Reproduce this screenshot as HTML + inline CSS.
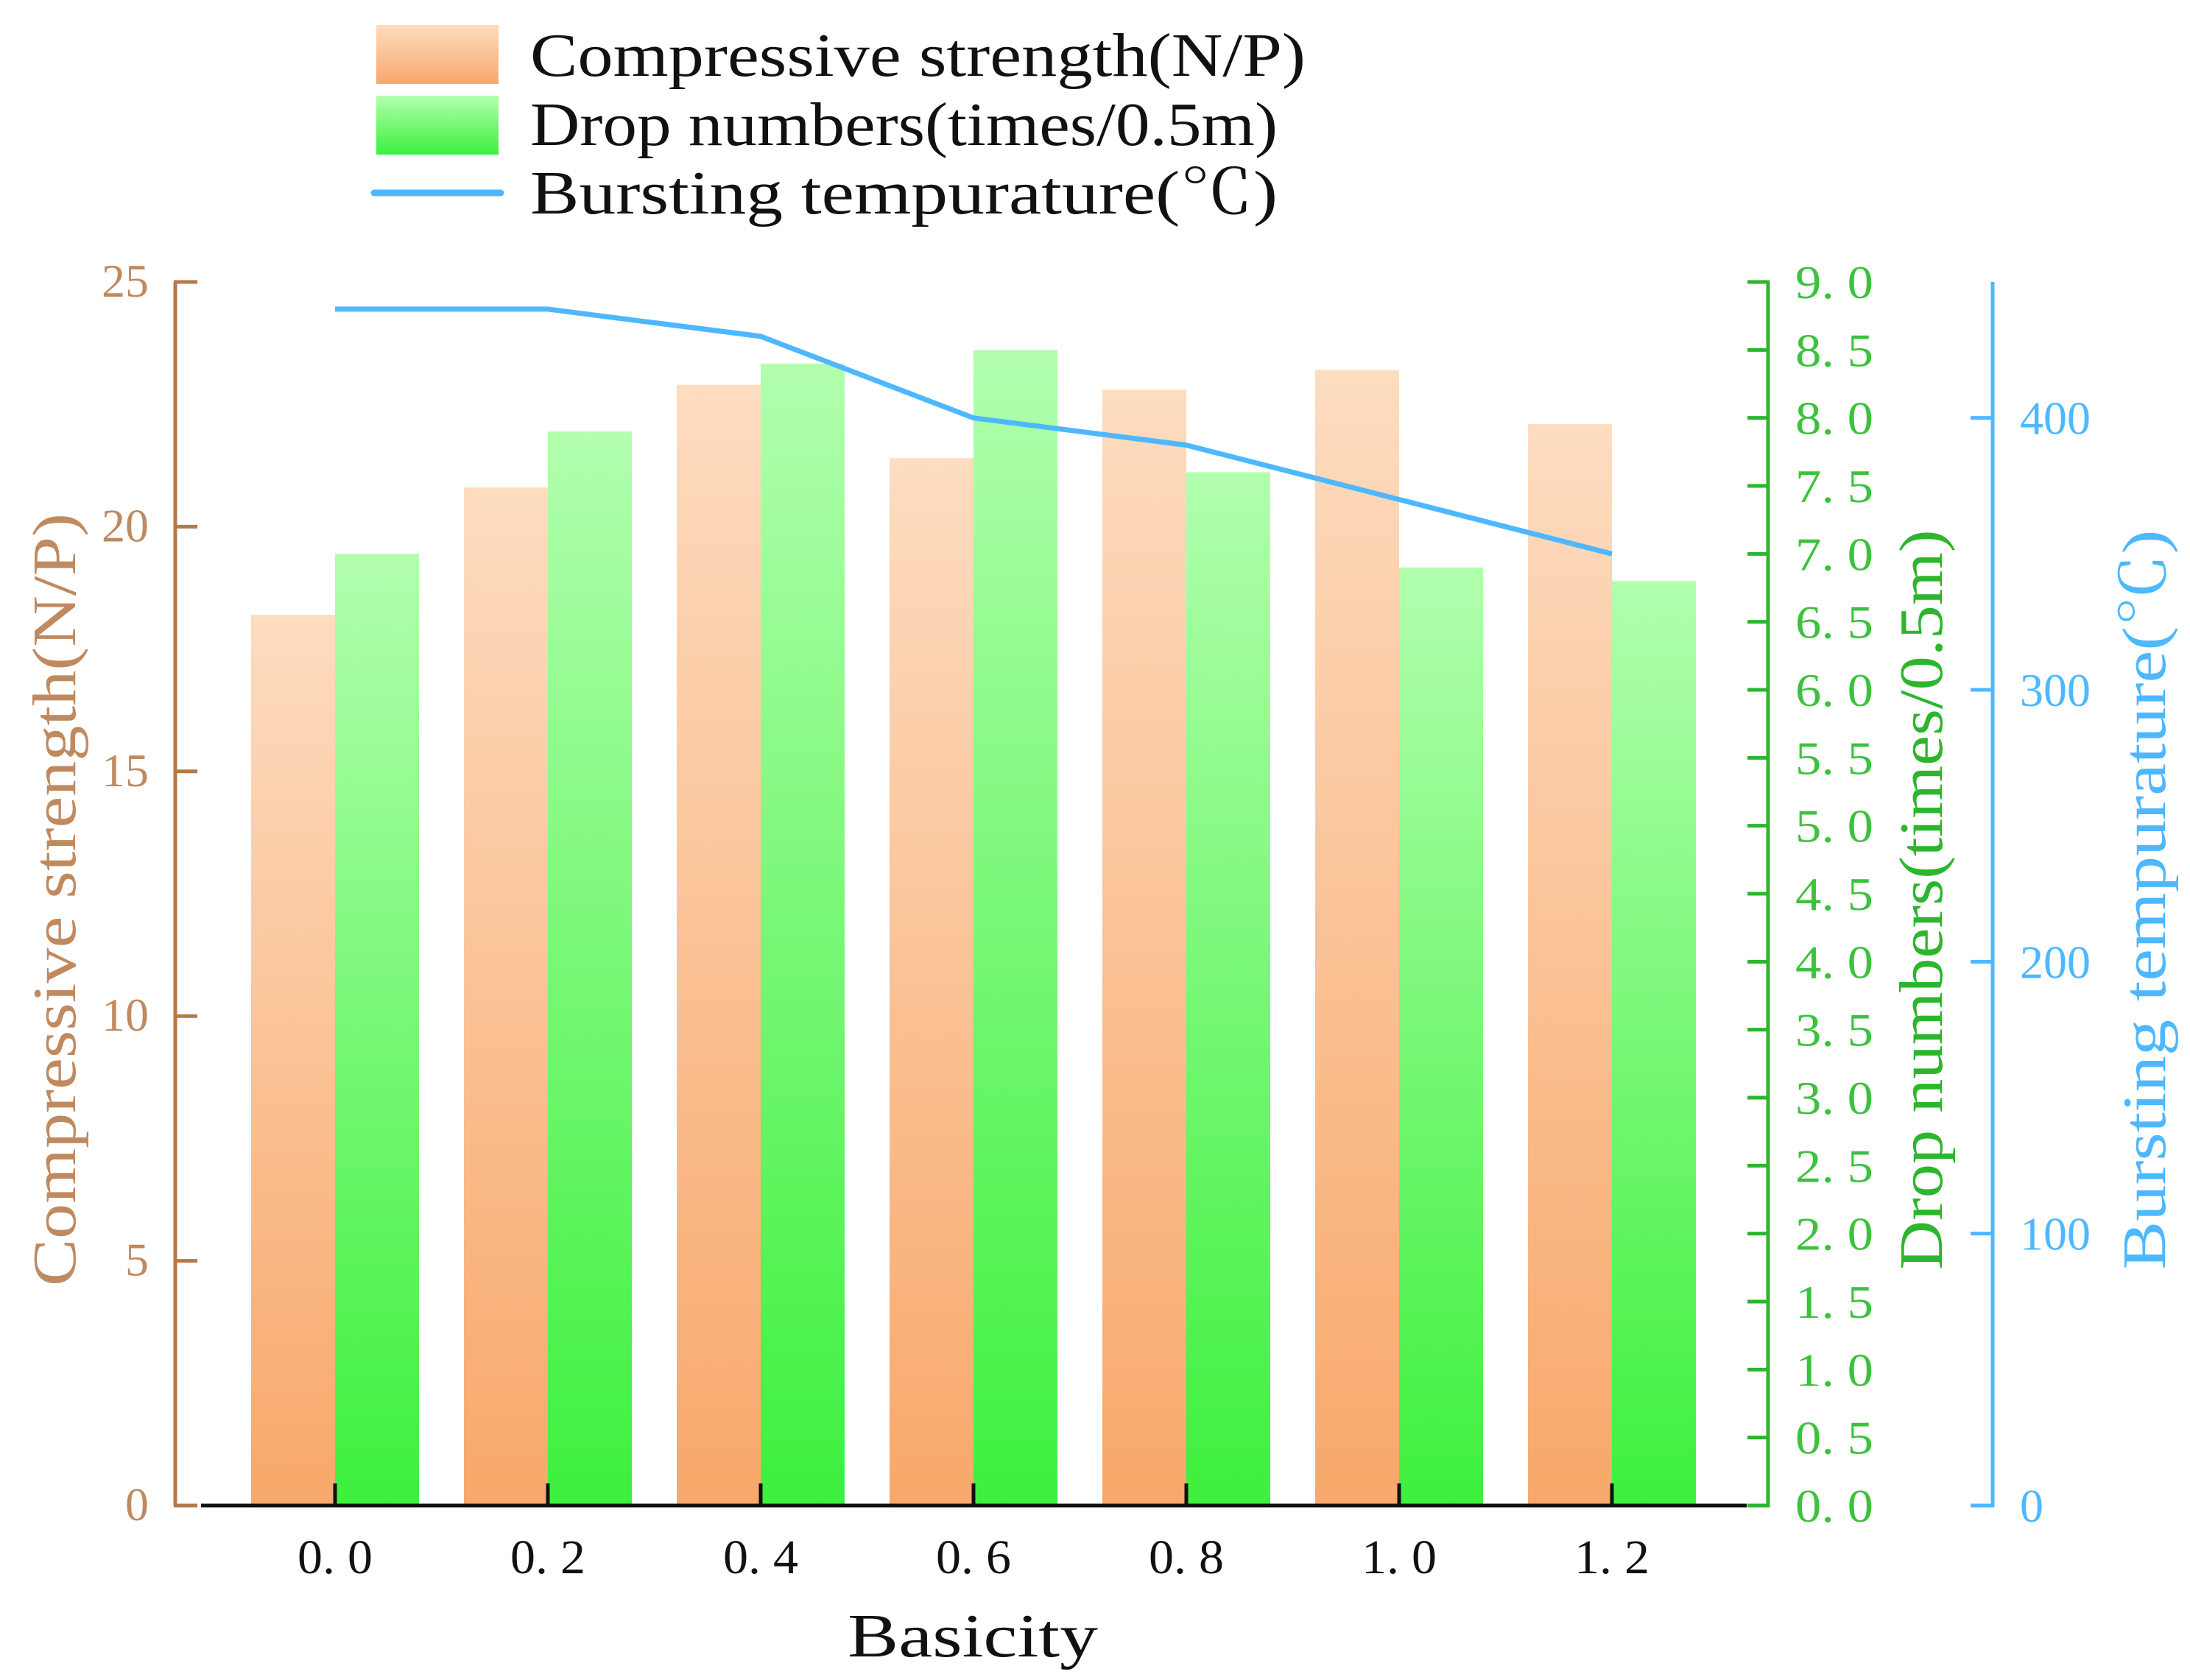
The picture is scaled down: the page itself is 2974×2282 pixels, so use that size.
<!DOCTYPE html>
<html><head><meta charset="utf-8"><style>
html,body{margin:0;padding:0;background:#fff;}
svg{display:block;}
text{font-family:"Liberation Serif","Noto Serif CJK SC",serif;}
</style></head><body>
<svg id="chart" width="2974" height="2282" viewBox="0 0 2974 2282" xmlns="http://www.w3.org/2000/svg">
<defs>
<linearGradient id="gOr" x1="0" y1="0" x2="0" y2="1"><stop offset="0" stop-color="#fddcc0"/><stop offset="1" stop-color="#f8a86a"/></linearGradient>
<linearGradient id="gGr" x1="0" y1="0" x2="0" y2="1"><stop offset="0" stop-color="#b2ffae"/><stop offset="1" stop-color="#3df03d"/></linearGradient>
<linearGradient id="gOrL" x1="0" y1="0" x2="0" y2="1"><stop offset="0" stop-color="#fddcc0"/><stop offset="1" stop-color="#f8a86a"/></linearGradient>
<linearGradient id="gGrL" x1="0" y1="0" x2="0" y2="1"><stop offset="0" stop-color="#b2ffae"/><stop offset="1" stop-color="#3df03d"/></linearGradient>
</defs>
<g id="bars"></g>
<g id="axes"></g>
<g id="legend">
<rect x="511" y="34" width="166" height="80" fill="url(#gOrL)"/>
<rect x="511" y="130" width="166" height="80" fill="url(#gGrL)"/>
<line x1="508" y1="262" x2="680" y2="262" stroke="#4db8ff" stroke-width="9" stroke-linecap="round"/>
<text x="720" y="103" font-size="84" textLength="1053" lengthAdjust="spacingAndGlyphs" fill="#111">Compressive strength(N/P)</text>
<text x="720" y="197" font-size="84" textLength="1015" lengthAdjust="spacingAndGlyphs" fill="#111">Drop numbers(times/0.5m)</text>
<text x="720" y="290" font-size="84" textLength="1015" lengthAdjust="spacingAndGlyphs" fill="#111">Bursting tempurature(℃)</text>
</g>
</svg>
<script>
const categories = ["0.0","0.2","0.4","0.6","0.8","1.0","1.2"];
const compressive = [18.2, 20.8, 22.9, 21.4, 22.8, 23.2, 22.1];
const drops = [7.0, 7.9, 8.4, 8.5, 7.6, 6.9, 6.8];
const bursting = [440, 440, 430, 400, 390, 370, 350];
const leftTicks = [0,5,10,15,20,25];
const greenTicks = [0,0.5,1,1.5,2,2.5,3,3.5,4,4.5,5,5.5,6,6.5,7,7.5,8,8.5,9];
const blueTicks = [0,100,200,300,400];

const NS="http://www.w3.org/2000/svg";
const Y0=2045, Y1=383;
const yL=v=>Y0-(v/25)*(Y0-Y1);
const yG=v=>Y0-(v/9)*(Y0-Y1);
const yB=v=>Y0-(v/450)*(Y0-Y1);
const xC=i=>455+i*289;
const BW=114;
function mk(tag,attrs,parent){const e=document.createElementNS(NS,tag);for(const k in attrs)e.setAttribute(k,attrs[k]);parent.appendChild(e);return e;}
const bars=document.getElementById('bars'), axes=document.getElementById('axes');

categories.forEach((c,i)=>{
  let r=mk('rect',{x:xC(i)-BW,y:yL(compressive[i]),width:BW,height:Y0-yL(compressive[i]),fill:'url(#gOr)'},bars);
  
  
  let g=mk('rect',{x:xC(i),y:yG(drops[i]),width:BW,height:Y0-yG(drops[i]),fill:'url(#gGr)'},bars);
  
  
});
let pts=bursting.map((v,i)=>xC(i)+','+yB(v)).join(' ');
let pl=mk('polyline',{points:pts,fill:'none',stroke:'#4db8ff','stroke-width':7,'stroke-linejoin':'round'},bars);



// left axis
const OR='#b57848', GR='#2db52d', BL='#4db8ff';
let la=mk('line',{x1:238,y1:Y1,x2:238,y2:Y0,stroke:OR,'stroke-width':5},axes);


leftTicks.forEach(v=>{
  mk('line',{x1:236,y1:yL(v),x2:268,y2:yL(v),stroke:OR,'stroke-width':5},axes);
  let t=mk('text',{x:202,y:yL(v)+20,'font-size':64,'text-anchor':'end',fill:'#c08a60'},axes);
  t.textContent=String(v);
  
  
});
let lt=mk('text',{x:0,y:0,'font-size':84,'text-anchor':'middle',fill:'#c08a60',transform:'translate(102,1222) rotate(-90)',textLength:1050,lengthAdjust:'spacingAndGlyphs'},axes);
lt.textContent='Compressive strength(N/P)';



// x axis
let xa=mk('line',{x1:273,y1:Y0,x2:2372,y2:Y0,stroke:'#111','stroke-width':5},axes);


categories.forEach((c,i)=>{
  mk('line',{x1:xC(i),y1:Y0-30,x2:xC(i),y2:Y0,stroke:'#111','stroke-width':5},axes);
  let t=mk('text',{x:xC(i),y:2137,'font-size':66,'text-anchor':'middle',fill:'#111',textLength:102,lengthAdjust:'spacingAndGlyphs'},axes);
  t.textContent=c.replace('.','. ');
  
  
});
let xt=mk('text',{x:1321,y:2250,'font-size':84,'text-anchor':'middle',fill:'#111',textLength:340,lengthAdjust:'spacingAndGlyphs'},axes);
xt.textContent='Basicity';



// green axis
let ga=mk('line',{x1:2401,y1:Y1,x2:2401,y2:Y0+2,stroke:GR,'stroke-width':5},axes);


greenTicks.forEach(v=>{
  mk('line',{x1:2373,y1:yG(v),x2:2403,y2:yG(v),stroke:GR,'stroke-width':5},axes);
  let t=mk('text',{x:2438,y:yG(v)+22,'font-size':64,fill:'#3cc23c',textLength:106,lengthAdjust:'spacingAndGlyphs'},axes);
  t.textContent=v.toFixed(1).replace('.','. ');
  
  
});
let gt=mk('text',{x:0,y:0,'font-size':84,'text-anchor':'middle',fill:GR,transform:'translate(2637,1222) rotate(-90)',textLength:1005,lengthAdjust:'spacingAndGlyphs'},axes);
gt.textContent='Drop numbers(times/0.5m)';



// blue axis
let ba=mk('line',{x1:2706,y1:Y1,x2:2706,y2:Y0+2,stroke:BL,'stroke-width':5},axes);


blueTicks.forEach(v=>{
  mk('line',{x1:2676,y1:yB(v),x2:2708,y2:yB(v),stroke:BL,'stroke-width':5},axes);
  let t=mk('text',{x:2743,y:yB(v)+22,'font-size':64,fill:BL},axes);
  t.textContent=String(v);
  
  
});
let bt=mk('text',{x:0,y:0,'font-size':84,'text-anchor':'middle',fill:BL,transform:'translate(2940,1222) rotate(-90)',textLength:1005,lengthAdjust:'spacingAndGlyphs'},axes);
bt.textContent='Bursting tempurature(℃)';


</script>
</body></html>
